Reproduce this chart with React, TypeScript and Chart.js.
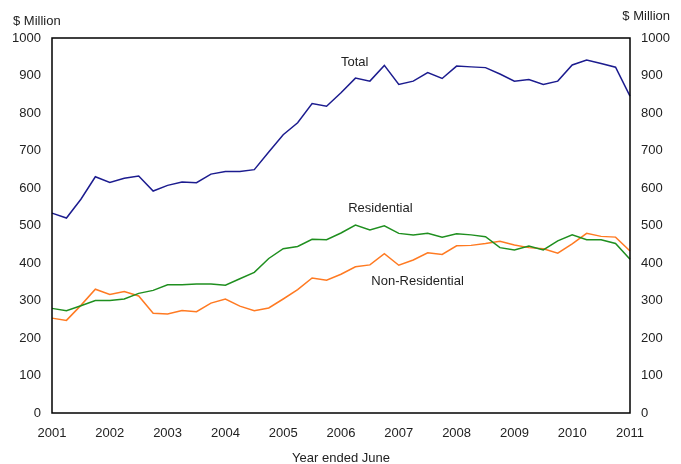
import React, { useEffect, useRef } from "react";
import { Chart, registerables } from "chart.js";

Chart.register(...registerables);

const years = ["2001", "2002", "2003", "2004", "2005", "2006", "2007", "2008", "2009", "2010", "2011"];
const quarterMonths = ["Jun", "Sep", "Dec", "Mar"];

const total = [533, 520, 570, 630, 615, 626, 632, 592, 607, 616, 614, 637, 644, 644, 649, 696, 742, 774, 825, 818,
  854, 893, 885, 927, 876, 885, 908, 892, 925, 923, 921, 904, 885, 889, 876, 885, 928, 941, 932, 922, 845];
const residential = [279, 273, 286, 300, 300, 304, 319, 327, 342, 342, 344, 344, 341, 358, 375, 412, 438, 444, 463, 462,
  480, 501, 488, 499, 479, 475, 479, 469, 478, 475, 470, 441, 435, 445, 435, 459, 475, 462, 462, 452, 410];
const nonResidential = [253, 247, 287, 330, 316, 324, 312, 266, 264, 273, 270, 293, 304, 285, 273, 280, 304, 329, 360, 354,
  370, 390, 395, 425, 394, 408, 427, 423, 446, 447, 452, 458, 448, 441, 438, 426, 451, 479, 471, 469, 432];

const yTicks = [0, 100, 200, 300, 400, 500, 600, 700, 800, 900, 1000];

const quarterLabels: string[] = total.map((_, i) => {
  const yearIdx = Math.floor(i / 4);
  const m = quarterMonths[i % 4];
  const y = m === "Mar" ? Number(years[0]) + yearIdx + 1 : Number(years[0]) + yearIdx;
  return `${m} ${y}`;
});

const FONT = "'Liberation Sans', Arial, sans-serif";

const seriesLabels = [
  { text: "Total", x: 20.0, y: 935 },
  { text: "Residential", x: 20.5, y: 546 },
  { text: "Non-Residential", x: 22.1, y: 351 },
];

const framePlugin = {
  id: "frameAndText",
  afterDraw(chart: any) {
    const { ctx, chartArea } = chart;
    ctx.save();
    ctx.strokeStyle = "#000";
    ctx.lineWidth = 1.5;
    ctx.strokeRect(chartArea.left, chartArea.top, chartArea.right - chartArea.left, chartArea.bottom - chartArea.top);
    ctx.fillStyle = "#222";
    ctx.font = `13px ${FONT}`;
    ctx.textBaseline = "middle";
    ctx.textAlign = "left";
    ctx.fillText("$ Million", 13, 21);
    ctx.textAlign = "right";
    ctx.fillText("$ Million", 670, 16);
    const xs = chart.scales.x;
    const ys = chart.scales.y;
    ctx.textAlign = "left";
    seriesLabels.forEach((l) => {
      ctx.fillText(l.text, xs.getPixelForValue(l.x), ys.getPixelForValue(l.y));
    });
    ctx.restore();
  },
};

export default function App() {
  const ref = useRef<HTMLCanvasElement | null>(null);
  useEffect(() => {
    if (!ref.current) return;
    const yAxis = (position: "left" | "right", width: number) => ({
      type: "linear" as const,
      position,
      min: 0,
      max: 1000,
      afterBuildTicks: (s: any) => {
        s.ticks = yTicks.map((v) => ({ value: v }));
      },
      afterFit: (s: any) => {
        s.width = width;
      },
      grid: { display: false, drawTicks: false },
      border: { display: false },
      ticks: {
        padding: 11,
        color: "#222",
        font: { family: FONT, size: 13 },
        callback: (v: any) => String(v),
      },
    });
    const chart = new Chart(ref.current, {
      type: "line",
      data: {
        labels: quarterLabels,
        datasets: [
          { label: "Total", data: total, borderColor: "#1c1c8f", borderWidth: 1.5, pointRadius: 0, fill: false, tension: 0 },
          { label: "Residential", data: residential, borderColor: "#1f8f1f", borderWidth: 1.5, pointRadius: 0, fill: false, tension: 0 },
          { label: "Non-Residential", data: nonResidential, borderColor: "#ff7a22", borderWidth: 1.5, pointRadius: 0, fill: false, tension: 0 },
        ],
      },
      options: {
        animation: false,
        responsive: false,
        layout: { padding: { top: 38, left: 0, right: 0, bottom: 0 } },
        plugins: { legend: { display: false }, tooltip: { enabled: false } },
        scales: {
          x: {
            type: "category",
            offset: false,
            afterFit: (s: any) => {
              s.height = 51;
            },
            grid: { display: false, drawTicks: false },
            border: { display: false },
            ticks: {
              autoSkip: false,
              maxRotation: 0,
              padding: 13,
              color: "#222",
              font: { family: FONT, size: 13 },
              callback: (_v: any, i: number) => (i % 4 === 0 ? years[i / 4] : ""),
            },
            title: {
              display: true,
              text: "Year ended June",
              color: "#222",
              font: { family: FONT, size: 13 },
              padding: { top: 4, bottom: -2 },
            },
          },
          y: yAxis("left", 52),
          y2: yAxis("right", 51),
        },
      },
      plugins: [framePlugin],
    });
    return () => chart.destroy();
  }, []);
  return (
    <div style={{ position: "absolute", left: 0, top: 0, width: 681, height: 464, background: "#fff" }}>
      <canvas ref={ref} width={681} height={464} />
    </div>
  );
}
